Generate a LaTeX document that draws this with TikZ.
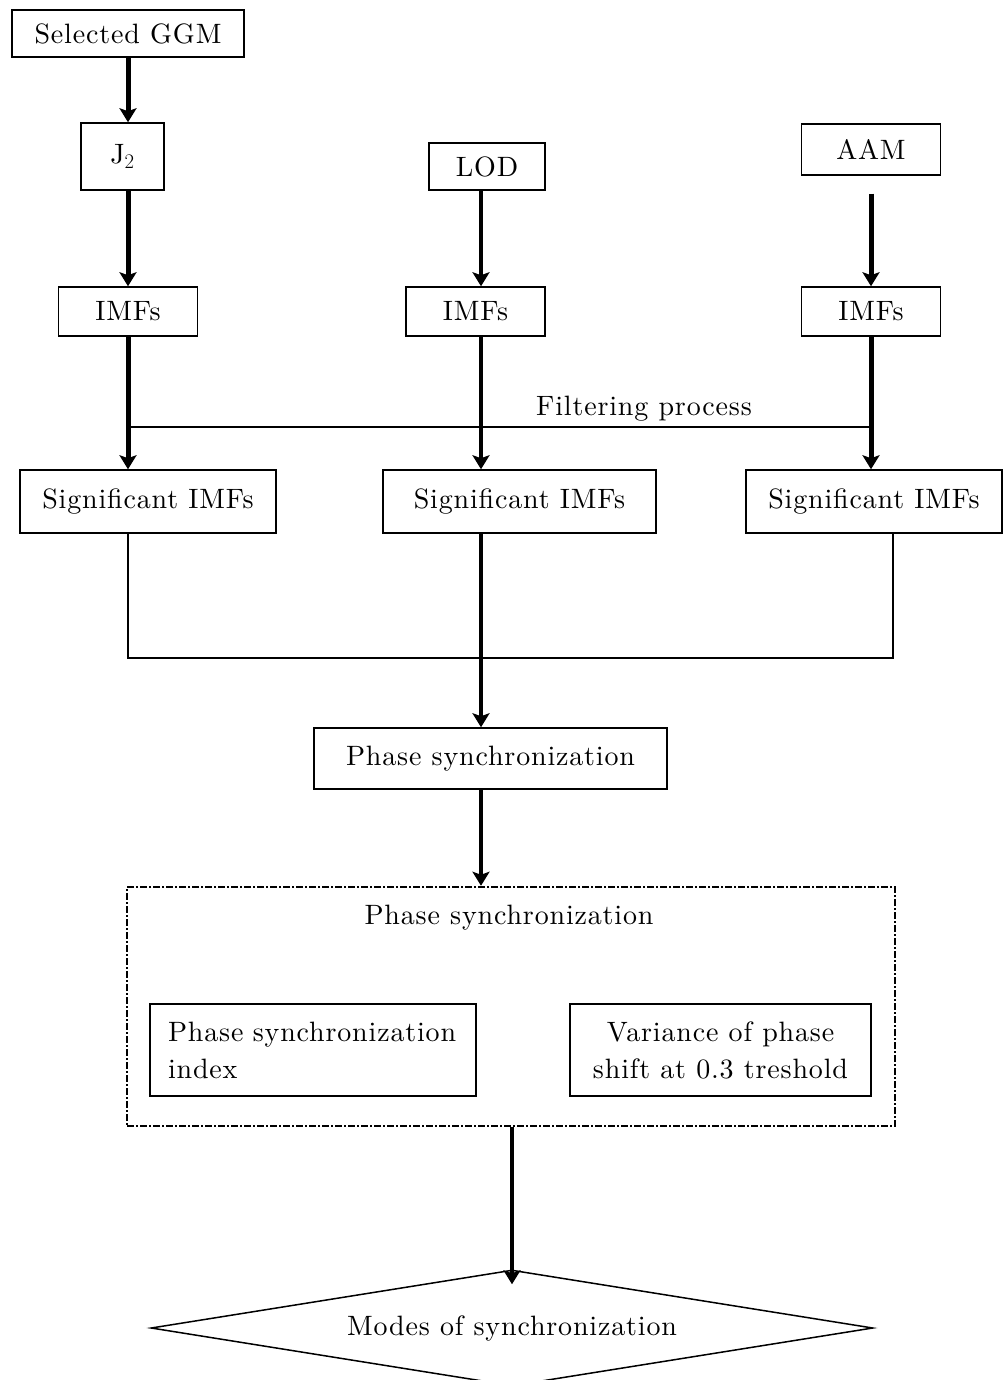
\documentclass[tikz,border=0pt]{standalone}
\usepackage{fontspec}
\setmainfont{lmroman10-regular.otf}[LetterSpace=3]
\usetikzlibrary{arrows.meta,shapes.geometric,calc}
\begin{document}
\begin{tikzpicture}[x=1pt,y=-1pt,
  font=\fontsize{28}{37}\selectfont,
  box/.style={draw,line width=1.5pt,inner sep=0pt,align=center},
  thickarr/.style={line width=5pt,-{Stealth[length=14pt,width=17pt,inset=3pt]}},
  midarr/.style={line width=3.2pt,-{Stealth[length=14pt,width=17pt,inset=3pt]}},
  thinline/.style={line width=1.5pt}]
\useasboundingbox (0,0) rectangle (1003,1380);
% top row
\node[box,minimum width=232pt,minimum height=47pt] (ggm) at (128,33.5) {Selected GGM};
\node[box,minimum width=83pt,minimum height=67pt] (j2) at (122.5,156.5) {J$_2$};
\node[box,minimum width=116pt,minimum height=47pt] (lod) at (487,166.5) {LOD};
\node[box,minimum width=139pt,minimum height=51pt] (aam) at (871,149.5) {AAM};
% IMFs
\node[box,minimum width=139pt,minimum height=49pt] (imf1) at (128,311.5) {IMFs};
\node[box,minimum width=139pt,minimum height=49pt] (imf2) at (475.5,311.5) {IMFs};
\node[box,minimum width=139pt,minimum height=49pt] (imf3) at (871,311.5) {IMFs};
% significant
\node[box,minimum width=256pt,minimum height=63pt] (sig1) at (148,501.5) {Significant IMFs};
\node[box,minimum width=273pt,minimum height=63pt] (sig2) at (519.5,501.5) {Significant IMFs};
\node[box,minimum width=256pt,minimum height=63pt] (sig3) at (874,501.5) {Significant IMFs};
% phase sync
\node[box,minimum width=353pt,minimum height=61pt] (phase) at (490.5,758.5) {Phase synchronization};
% dashed box
\node[draw,line width=2.5pt,dash pattern=on 7pt off 2pt on 2pt off 2pt,minimum width=768pt,minimum height=239pt,inner sep=0pt] (dbox) at (511,1006.5) {};
\node (dtitle) at (509,918) {Phase synchronization};
\node[box,minimum height=92pt,text width=290pt,inner xsep=18pt,align=left] (psi) at (313,1050) {\mbox{Phase synchronization}\\index};
\node[box,minimum width=301pt,minimum height=92pt] (var) at (720.5,1050) {Variance of phase\\shift at 0.3 treshold};
% diamond
\node[draw,line width=1.5pt,diamond,aspect=6.22,minimum width=722pt,minimum height=116pt,inner sep=0pt] (diam) at (512,1328) {Modes of synchronization};
% helper coordinates
\coordinate (mx) at (481,0);
\coordinate (fl) at (128,427);
\coordinate (fr) at (871,427);
\coordinate (bl) at (128,658);
\coordinate (br) at (893,658);
% arrows top
\draw[thickarr] (ggm.south) -- (ggm.south |- j2.north);
\draw[thickarr] (imf1.north |- j2.south) -- (imf1.north);
\draw[midarr] (mx |- lod.south) -- (mx |- imf2.north);
\draw[thickarr,shorten <=18pt] (aam.south) -- (imf3.north);
% filtering
\draw[thinline] (fl) -- (fr);
\node (filt) at (644,409) {Filtering process};
\draw[thickarr] (imf1.south) -- (imf1.south |- sig1.north);
\draw[midarr] (mx |- imf2.south) -- (mx |- sig2.north);
\draw[thickarr] (imf3.south) -- (imf3.south |- sig3.north);
% bottom join
\draw[thinline] (bl |- sig1.south) -- (bl) -- (br) -- (br |- sig3.south);
\draw[midarr] (mx |- sig2.south) -- (mx |- phase.north);
\draw[midarr] (mx |- phase.south) -- (mx |- dbox.north);
\draw[midarr] (diam.north |- dbox.south) -- ($(diam.north)+(0,15)$);
\end{tikzpicture}
\end{document}
